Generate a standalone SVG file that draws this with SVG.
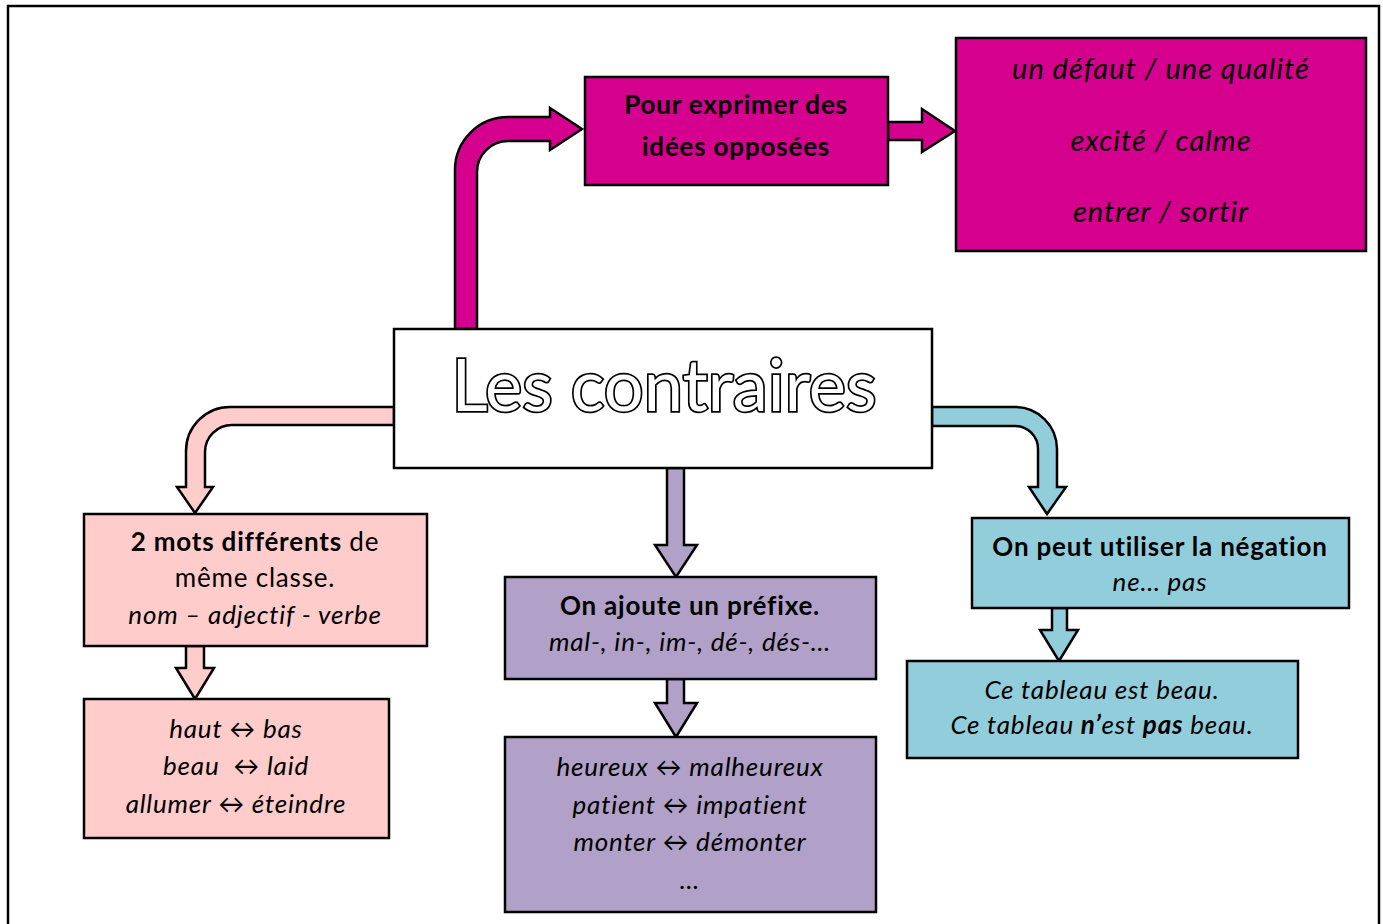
<svg xmlns="http://www.w3.org/2000/svg" width="1383" height="924" viewBox="0 0 1383 924">
<style>
.box{stroke:#000;stroke-width:2.5}
.mag{fill:#D6008F}
.pink{fill:#FFCCCC}
.pur{fill:#B1A0C7}
.blue{fill:#92CDDC}
.arr{stroke:#000;stroke-width:2.5;stroke-linejoin:miter}
text{font-family:Lato,"Open Sans","Liberation Sans",sans-serif;fill:#000;text-anchor:middle}
.b{font-weight:bold}
.i{font-style:italic}
.t24{font-size:26px;letter-spacing:0.8px}
.t28{font-size:29px;letter-spacing:1px}
.title{font-family:Lato,"Open Sans",sans-serif;font-size:72px;fill:#fff;stroke:#000;stroke-width:3.5;paint-order:stroke fill}
</style>
<rect x="8" y="6" width="1371" height="940" fill="#fff" stroke="#000" stroke-width="2.5"/>
<g id="connectors">
<path class="arr mag" d="M455,329 L455,170 A53,53 0 0 1 508,117 L550,117 L550,108 L582,129 L550,150 L550,141 L508,141 A31,31 0 0 0 477,172 L477,329 Z"/>
<path class="arr mag" d="M888,122 L922,122 L922,109 L955,131 L922,152 L922,140 L888,140 Z"/>
<path class="arr pink" d="M394,407 L230,407 A44,44 0 0 0 186,451 L186,487 L177,487 L195,513 L213,487 L205,487 L205,452 A27,27 0 0 1 232,425 L394,425 Z"/>
<path class="arr blue" d="M932,407 L1015,407 A42,42 0 0 1 1057,449 L1057,487 L1066,487 L1047,514 L1029,487 L1038,487 L1038,449 A23,23 0 0 0 1015,426 L932,426 Z"/>
<path class="arr pur" d="M667,468 L667,545 L655,545 L676,577 L697,545 L684,545 L684,468 Z"/>
<path class="arr pur" d="M667,679 L667,703 L655,703 L676,737 L697,703 L684,703 L684,679 Z"/>
<path class="arr pink" d="M186,646 L186,668 L176,668 L195,699 L214,668 L204,668 L204,646 Z"/>
<path class="arr blue" d="M1052,608 L1052,630 L1040,630 L1059,661 L1078,630 L1067,630 L1067,608 Z"/>
</g>
<g id="center">
<rect class="box" x="394" y="329" width="538" height="139" fill="#fff"/>
<text class="title" x="664" y="411" textLength="425" lengthAdjust="spacingAndGlyphs">Les contraires</text>
</g>
<g id="ideas">
<rect class="box mag" x="585" y="77" width="303" height="108"/>
<text class="b t24" x="736" y="114">Pour exprimer des</text>
<text class="b t24" x="736" y="156">idées opposées</text>
</g>
<g id="examples-mag">
<rect class="box mag" x="956" y="38" width="410" height="213"/>
<text class="i t28" x="1161" y="79">un défaut / une qualité</text>
<text class="i t28" x="1161" y="151">excité / calme</text>
<text class="i t28" x="1161" y="222">entrer / sortir</text>
</g>
<g id="mots">
<rect class="box pink" x="84" y="514" width="343" height="132"/>
<text class="t24" x="255" y="551"><tspan class="b">2 mots différents</tspan> de</text>
<text class="t24" x="255" y="587">même classe.</text>
<text class="t24 i" x="255" y="624">nom – adjectif - verbe</text>
</g>
<g id="examples-pink">
<rect class="box pink" x="84" y="699" width="305" height="139"/>
<text class="t24 i" x="236" y="738">haut ↔ bas</text>
<text class="t24 i" x="236" y="775">beau &#160;↔ laid</text>
<text class="t24 i" x="236" y="813">allumer ↔ éteindre</text>
</g>
<g id="prefixe">
<rect class="box pur" x="505" y="577" width="371" height="102"/>
<text class="t24 b" x="690" y="615">On ajoute un préfixe.</text>
<text class="t24 i" x="690" y="651">mal-, in-, im-, dé-, dés-…</text>
</g>
<g id="examples-pur">
<rect class="box pur" x="505" y="737" width="371" height="175"/>
<text class="t24 i" x="690" y="776">heureux ↔ malheureux</text>
<text class="t24 i" x="690" y="814">patient ↔ impatient</text>
<text class="t24 i" x="690" y="851">monter ↔ démonter</text>
<text class="t24 i" x="690" y="889">…</text>
</g>
<g id="negation">
<rect class="box blue" x="972" y="518" width="377" height="90"/>
<text class="t24 b" x="1160" y="556">On peut utiliser la négation</text>
<text class="t24 i" x="1160" y="591">ne… pas</text>
</g>
<g id="examples-blue">
<rect class="box blue" x="907" y="661" width="391" height="97"/>
<text class="t24 i" x="1102" y="699">Ce tableau est beau.</text>
<text class="t24 i" x="1102" y="734">Ce tableau <tspan class="b">n’</tspan>est <tspan class="b">pas</tspan> beau.</text>
</g>
</svg>
